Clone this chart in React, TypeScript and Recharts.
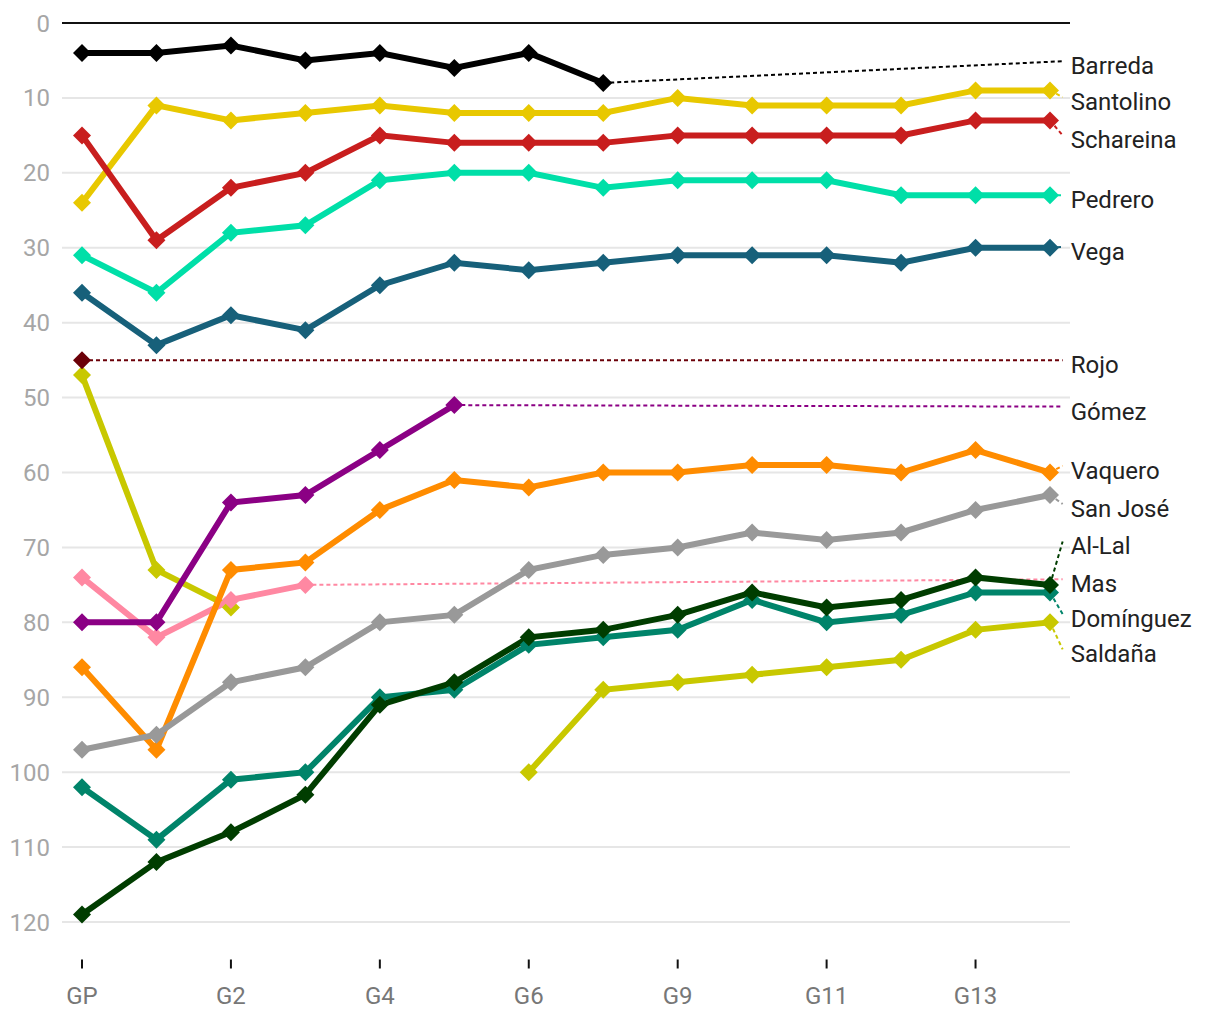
import React from 'react';
import { LineChart, Line, XAxis, YAxis, ReferenceLine, ReferenceDot } from 'recharts';

const stages = ['GP', 'G1', 'G2', 'G3', 'G4', 'G5', 'G6', 'G7', 'G9', 'G10', 'G11', 'G12', 'G13', 'G14'];
const xTickIndexes = [0, 2, 4, 6, 8, 10, 12];
const yTicks = [0, 10, 20, 30, 40, 50, 60, 70, 80, 90, 100, 110, 120];

const barreda = [4, 4, 3, 5, 4, 6, 4, 8, null, null, null, null, null, null];
const santolino = [24, 11, 13, 12, 11, 12, 12, 12, 10, 11, 11, 11, 9, 9];
const schareina = [15, 29, 22, 20, 15, 16, 16, 16, 15, 15, 15, 15, 13, 13];
const pedrero = [31, 36, 28, 27, 21, 20, 20, 22, 21, 21, 21, 23, 23, 23];
const vega = [36, 43, 39, 41, 35, 32, 33, 32, 31, 31, 31, 32, 30, 30];
const rojo = [45, null, null, null, null, null, null, null, null, null, null, null, null, null];
const gomez = [80, 80, 64, 63, 57, 51, null, null, null, null, null, null, null, null];
const vaquero = [86, 97, 73, 72, 65, 61, 62, 60, 60, 59, 59, 60, 57, 60];
const sanJose = [97, 95, 88, 86, 80, 79, 73, 71, 70, 68, 69, 68, 65, 63];
const alLal = [119, 112, 108, 103, 91, 88, 82, 81, 79, 76, 78, 77, 74, 75];
const mas = [74, 82, 77, 75, null, null, null, null, null, null, null, null, null, null];
const dominguez = [102, 109, 101, 100, 90, 89, 83, 82, 81, 77, 80, 79, 76, 76];
const saldana = [47, 73, 78, null, null, null, 100, 89, 88, 87, 86, 85, 81, 80];

// label slot (value-axis units) where each name sits in the right-hand column
const labelSlots: Record<string, number> = {
  Barreda: 5.1,
  Santolino: 9.9,
  Schareina: 15.0,
  Pedrero: 23.0,
  Vega: 29.9,
  Rojo: 45.0,
  'Gómez': 51.2,
  Vaquero: 59.1,
  'San José': 64.2,
  'Al-Lal': 69.2,
  Mas: 74.25,
  'Domínguez': 78.9,
  'Saldaña': 83.6,
};
const labelX = 13.17;

// drawing order (bottom to top)
const riders = [
  { name: 'Saldaña', color: '#c8c800', values: saldana },
  { name: 'Domínguez', color: '#00846a', values: dominguez },
  { name: 'Al-Lal', color: '#003d00', values: alLal },
  { name: 'Mas', color: '#ff88a2', values: mas },
  { name: 'Gómez', color: '#8b0084', values: gomez },
  { name: 'Vaquero', color: '#ff8c00', values: vaquero },
  { name: 'San José', color: '#999999', values: sanJose },
  { name: 'Rojo', color: '#6b0008', values: rojo },
  { name: 'Vega', color: '#17607a', values: vega },
  { name: 'Pedrero', color: '#00dfa8', values: pedrero },
  { name: 'Santolino', color: '#e8c800', values: santolino },
  { name: 'Schareina', color: '#c81e1e', values: schareina },
  { name: 'Barreda', color: '#000000', values: barreda },
];

const data = stages.map((s, i) => {
  const row: Record<string, number | string | null> = { x: i, stage: s };
  riders.forEach((r) => {
    row[r.name] = r.values[i];
  });
  return row;
});

const lastPoint = (vals: (number | null)[]) => {
  for (let i = vals.length - 1; i >= 0; i--) {
    if (vals[i] != null) return { i, v: vals[i] as number };
  }
  return { i: 0, v: 0 };
};

const makeDiamond = (color: string) => (props: any) => {
  const { cx, cy, value, index } = props;
  if (value == null || cx == null || cy == null || isNaN(cx) || isNaN(cy)) {
    return <g key={`e-${index}`} />;
  }
  const s = 9;
  return (
    <polygon
      key={`d-${index}`}
      points={`${cx},${cy - s} ${cx + s},${cy} ${cx},${cy + s} ${cx - s},${cy}`}
      fill={color}
      stroke="none"
    />
  );
};

const makeLabel = (name: string) => (props: any) => {
  const { cx, cy } = props;
  return (
    <text
      x={cx + 8}
      y={cy + 5}
      dominantBaseline="central"
      fontFamily="Roboto, sans-serif"
      fontSize={24}
      fill="#222222"
    >
      {name}
    </text>
  );
};

export default function App() {
  return (
    <div style={{ fontFamily: 'Roboto, sans-serif' }}>
      <LineChart
        width={1204}
        height={1004}
        data={data}
        margin={{ top: 15, right: 142, bottom: 2.5, left: 0 }}
      >
        <XAxis
          type="number"
          dataKey="x"
          domain={[0, 13]}
          ticks={xTickIndexes}
          tickFormatter={(v: number) => stages[v]}
          padding={{ left: 20, right: 20 }}
          axisLine={false}
          tickLine={{ stroke: '#111111', strokeWidth: 2 }}
          tickSize={9}
          tickMargin={18}
          height={50}
          tick={{ fill: '#777777', fontSize: 24, fontFamily: 'Roboto, sans-serif' }}
          interval={0}
        />
        <YAxis
          type="number"
          reversed
          domain={[0, 125]}
          ticks={yTicks}
          width={54}
          axisLine={false}
          tickLine={false}
          tickMargin={6}
          tick={{ fill: '#a6a6a6', fontSize: 24, fontFamily: 'Roboto, sans-serif' }}
          interval={0}
        />
        {yTicks.map((t) => (
          <ReferenceLine
            key={`g-${t}`}
            y={t}
            stroke={t === 0 ? '#111111' : '#e6e6e6'}
            strokeWidth={2}
          />
        ))}
        {riders.map((r) => {
          const lp = lastPoint(r.values);
          return (
            <ReferenceLine
              key={`c-${r.name}`}
              segment={[
                { x: lp.i, y: lp.v },
                { x: labelX, y: labelSlots[r.name] },
              ]}
              stroke={r.color}
              strokeWidth={2}
              strokeDasharray="4 3"
              ifOverflow="visible"
            />
          );
        })}
        {riders.map((r) => (
          <Line
            key={r.name}
            type="linear"
            dataKey={r.name}
            stroke={r.color}
            strokeWidth={6}
            dot={makeDiamond(r.color)}
            activeDot={false}
            connectNulls={false}
            isAnimationActive={false}
          />
        ))}
        {riders.map((r) => (
          <ReferenceDot
            key={`l-${r.name}`}
            x={labelX}
            y={labelSlots[r.name]}
            r={0}
            ifOverflow="visible"
            shape={makeLabel(r.name)}
          />
        ))}
      </LineChart>
    </div>
  );
}
